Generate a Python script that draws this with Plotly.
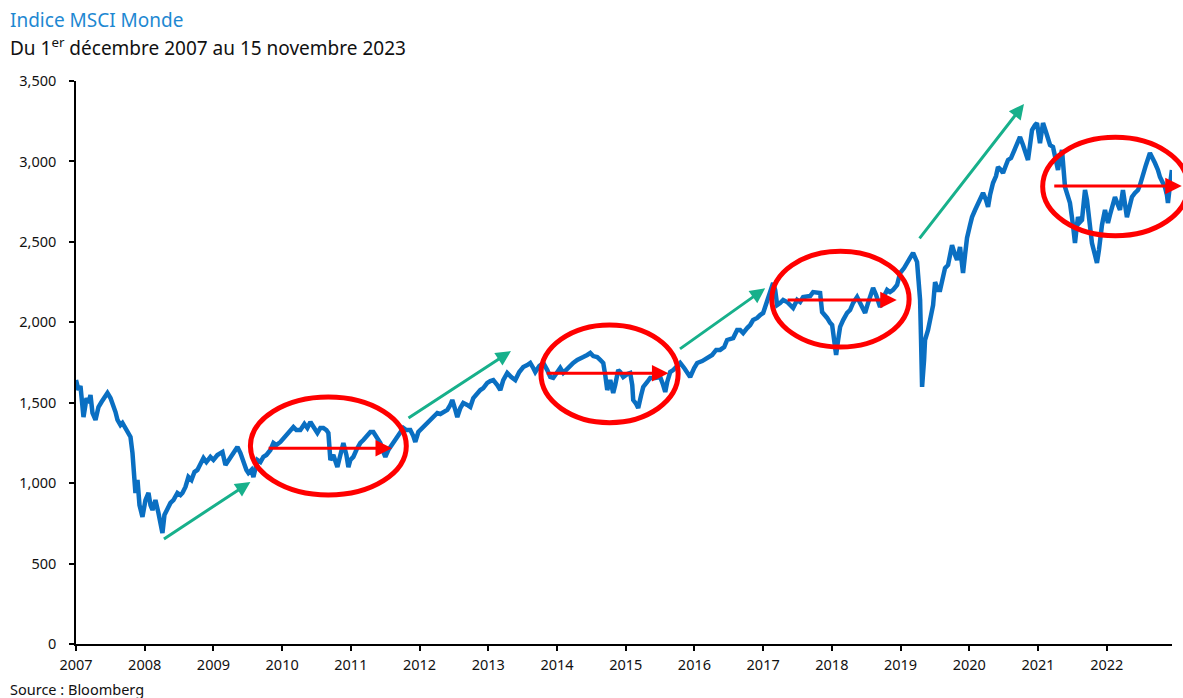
import plotly.graph_objects as go

# Years elapsed since the start of the chart (axis labelled 2007 .. 2022)
t = [0.000,0.036,0.065,0.109,0.153,0.182,0.211,0.240,0.284,0.327,0.371,0.415,0.458,0.502,0.531,0.575,0.604,0.647,0.676,0.720,
     0.749,0.793,0.822,0.851,0.865,0.895,0.924,0.967,1.011,1.055,1.084,1.113,1.156,1.200,1.229,1.258,1.287,1.331,1.375,1.418,
     1.476,1.520,1.549,1.593,1.636,1.680,1.724,1.767,1.811,1.855,1.898,1.956,2.000,2.058,2.102,2.131,2.175,2.218,2.247,2.305,
     2.349,2.393,2.436,2.480,2.509,2.553,2.582,2.611,2.640,2.684,2.727,2.771,2.829,2.873,2.916,2.975,3.033,3.091,3.164,3.207,
     3.265,3.324,3.367,3.411,3.454,3.513,3.556,3.600,3.644,3.673,3.702,3.745,3.804,3.847,3.891,3.935,3.964,3.993,4.036,4.080,
     4.138,4.182,4.240,4.284,4.327,4.371,4.429,4.473,4.502,4.545,4.575,4.633,4.691,4.720,4.764,4.807,4.865,4.909,4.938,4.982,
     5.054,5.113,5.156,5.200,5.258,5.302,5.345,5.404,5.447,5.476,5.520,5.549,5.593,5.636,5.694,5.738,5.782,5.840,5.884,5.927,
     5.985,6.029,6.073,6.131,6.175,6.218,6.276,6.334,6.393,6.451,6.509,6.567,6.611,6.654,6.684,6.742,6.800,6.858,6.902,6.945,
     7.004,7.047,7.091,7.135,7.193,7.236,7.295,7.338,7.382,7.440,7.484,7.527,7.585,7.629,7.673,7.702,7.731,7.775,7.818,7.847,
     7.891,7.920,7.964,8.022,8.065,8.095,8.109,8.153,8.182,8.225,8.255,8.313,8.356,8.429,8.502,8.545,8.575,8.604,8.647,8.691,
     8.749,8.793,8.851,8.895,8.938,8.996,9.040,9.113,9.185,9.258,9.316,9.374,9.433,9.476,9.564,9.622,9.665,9.709,9.767,9.811,
     9.854,9.913,9.956,10.000,10.029,10.073,10.102,10.145,10.175,10.204,10.247,10.291,10.349,10.393,10.436,10.495,10.538,10.582,10.640,10.684,
     10.727,10.785,10.829,10.858,10.902,10.931,10.975,11.004,11.033,11.062,11.091,11.120,11.164,11.222,11.265,11.309,11.367,11.411,11.454,11.484,
     11.527,11.556,11.600,11.644,11.702,11.745,11.804,11.847,11.891,11.949,11.993,12.051,12.095,12.138,12.182,12.240,12.255,12.284,12.298,12.313,
     12.342,12.356,12.400,12.429,12.473,12.502,12.545,12.575,12.618,12.647,12.691,12.720,12.749,12.793,12.822,12.865,12.909,12.938,12.967,13.011,
     13.040,13.084,13.127,13.156,13.200,13.244,13.273,13.302,13.345,13.389,13.418,13.462,13.491,13.535,13.564,13.607,13.636,13.695,13.738,13.782,
     13.811,13.854,13.884,13.913,13.956,13.985,14.029,14.058,14.073,14.116,14.145,14.175,14.218,14.262,14.291,14.320,14.349,14.393,14.436,14.465,
     14.509,14.538,14.567,14.582,14.611,14.640,14.669,14.684,14.713,14.727,14.756,14.785,14.829,14.858,14.887,14.902,14.931,14.975,15.018,15.047,
     15.076,15.120,15.164,15.193,15.236,15.265,15.294,15.338,15.367,15.411,15.455,15.484,15.527,15.571,15.629,15.673,15.702,15.745,15.775,15.818,
     15.847,15.876,15.891,15.920,15.949]

msci = [1641,1579,1604,1411,1529,1498,1548,1436,1393,1473,1504,1529,1560,1529,1498,1442,1393,1361,1374,1343,
        1330,1287,1187,1051,939,1020,864,790,895,939,864,833,895,814,758,690,802,845,877,895,
        939,926,939,976,1038,1020,1069,1082,1113,1156,1131,1163,1144,1175,1187,1194,1113,1144,1163,1194,
        1225,1187,1125,1082,1063,1082,1038,1082,1144,1131,1163,1175,1206,1250,1237,1256,1287,1318,1349,1330,
        1330,1368,1343,1380,1355,1312,1343,1343,1330,1312,1144,1175,1100,1175,1250,1175,1100,1144,1163,1206,
        1250,1268,1299,1318,1318,1287,1250,1194,1163,1206,1225,1256,1287,1312,1343,1330,1330,1293,1256,1318,
        1349,1374,1393,1411,1436,1430,1442,1455,1486,1517,1455,1411,1467,1498,1486,1473,1529,1560,1579,1591,
        1623,1635,1641,1610,1579,1641,1685,1660,1641,1691,1722,1734,1747,1716,1691,1728,1747,1703,1660,1654,
        1691,1716,1685,1703,1734,1747,1766,1778,1784,1797,1809,1790,1784,1766,1747,1672,1579,1641,1560,1610,
        1703,1691,1660,1678,1685,1610,1517,1492,1467,1548,1598,1629,1654,1654,1660,1610,1567,1629,1691,1703,
        1734,1747,1716,1691,1660,1716,1747,1759,1778,1797,1828,1828,1846,1890,1902,1952,1952,1933,1964,1983,
        2014,2027,2045,2058,2095,2151,2201,2244,2201,2107,2120,2139,2126,2107,2089,2139,2126,2157,2157,2163,
        2188,2182,2182,2064,2045,2027,1996,1983,1890,1797,1890,1971,2014,2058,2076,2120,2157,2120,2089,2058,
        2120,2151,2213,2170,2095,2151,2201,2188,2201,2232,2306,2337,2375,2400,2431,2375,2294,2139,1890,1598,
        1766,1890,1952,2027,2107,2250,2201,2201,2288,2337,2356,2431,2480,2418,2387,2468,2306,2418,2524,2605,
        2654,2698,2742,2773,2804,2760,2717,2791,2866,2909,2965,2947,2928,2978,3009,3021,3052,3102,3152,3102,
        3071,3009,3102,3195,3226,3239,3114,3195,3239,3183,3133,3102,3090,3009,2947,3021,3071,2841,2791,2742,
        2605,2493,2605,2654,2623,2636,2760,2822,2760,2698,2574,2493,2418,2369,2449,2530,2605,2698,2617,2667,
        2717,2779,2729,2698,2822,2729,2654,2729,2779,2804,2822,2853,2928,2978,3052,3021,2990,2947,2903,2866,
        2841,2791,2742,2853,2947]

year_ticks = [0, 1, 2, 3, 4, 5, 6, 7, 8, 9, 10, 11, 12, 13, 14, 15]
year_labels = ["2007", "2008", "2009", "2010", "2011", "2012", "2013", "2014",
               "2015", "2016", "2017", "2018", "2019", "2020", "2021", "2022"]
y_ticks = [0, 500, 1000, 1500, 2000, 2500, 3000, 3500]

# Trend arrows (tail -> tip), in data units
green_arrows = [((1.258, 647), (2.538, 1007)),
                ((4.817, 1399), (6.330, 1821)),
                ((8.768, 1828), (10.029, 2211)),
                ((12.259, 2512), (13.796, 3357))]
red_arrows = [((2.781, 1217), (4.599, 1217)),
              ((6.829, 1683), (8.622, 1683)),
              ((10.334, 2139), (11.944, 2139))]
# Consolidation zones (x0, x1, y0, y1)
ellipses = [(2.538, 4.807, 926, 1535),
            (6.766, 8.763, 1376, 1983),
            (10.126, 12.124, 1846, 2442)]

BLUE = "#0A6FC2"
RED = "#FF0000"
GREEN = "#17B08B"
FONT = "Noto Sans"

fig = go.Figure()
fig.add_trace(go.Scatter(x=t, y=msci, mode="lines",
                         line=dict(color=BLUE, width=4.5), hoverinfo="skip",
                         showlegend=False))

shapes = []
for x0, x1, y0, y1 in ellipses:
    shapes.append(dict(type="circle", xref="x", yref="y", x0=x0, x1=x1, y0=y0, y1=y1,
                       line=dict(color=RED, width=5)))
# last zone runs past the end of the axis
shapes.append(dict(type="circle", xref="x domain", yref="y", x0=0.882, x1=1.0146,
                   y0=2538, y1=3150, line=dict(color=RED, width=5)))

annotations = []
for (ax_, ay_), (x_, y_) in green_arrows:
    annotations.append(dict(x=x_, y=y_, ax=ax_, ay=ay_, xref="x", yref="y",
                            axref="x", ayref="y", text="", showarrow=True,
                            arrowhead=2, arrowsize=1.0, arrowwidth=3,
                            arrowcolor=GREEN, standoff=0))
for (ax_, ay_), (x_, y_) in red_arrows:
    annotations.append(dict(x=x_, y=y_, ax=ax_, ay=ay_, xref="x", yref="y",
                            axref="x", ayref="y", text="", showarrow=True,
                            arrowhead=2, arrowsize=1.1, arrowwidth=3,
                            arrowcolor=RED, standoff=0))
annotations.append(dict(x=1.0089, y=2847, ax=0.8912, ay=2847, xref="x domain", yref="y",
                        axref="x domain", ayref="y", text="", showarrow=True,
                        arrowhead=2, arrowsize=1.1, arrowwidth=3,
                        arrowcolor=RED, standoff=0))

annotations.append(dict(text="Indice MSCI Monde", xref="paper", yref="paper",
                        x=-0.0625, y=1.108, xanchor="left", yanchor="middle",
                        showarrow=False, font=dict(family=FONT, size=19, color="#1E88D2")))
annotations.append(dict(text="Du 1<sup>er</sup> décembre 2007 au 15 novembre 2023",
                        xref="paper", yref="paper",
                        x=-0.0625, y=1.060, xanchor="left", yanchor="middle",
                        showarrow=False, font=dict(family=FONT, size=19, color="#111111")))
annotations.append(dict(text="Source : Bloomberg", xref="paper", yref="paper",
                        x=-0.0625, y=-0.080, xanchor="left", yanchor="middle",
                        showarrow=False, font=dict(family=FONT, size=14.5, color="#111111")))

fig.update_layout(
    width=1183, height=698,
    margin=dict(l=76, r=11, t=81, b=54),
    paper_bgcolor="white", plot_bgcolor="white",
    font=dict(family=FONT, size=14.5, color="#111111"),
    shapes=shapes, annotations=annotations,
    xaxis=dict(range=[0, 15.95], tickmode="array", tickvals=year_ticks,
               ticktext=year_labels, showgrid=False, zeroline=False,
               showline=True, linecolor="black", linewidth=1.5,
               ticks="outside", ticklen=5, tickcolor="black", tickwidth=1.5,
               ticklabelstandoff=2,
               tickfont=dict(size=14.5, color="#111111")),
    yaxis=dict(range=[0, 3500], tickmode="array", tickvals=y_ticks,
               tickformat=",", showgrid=False, zeroline=False,
               showline=True, linecolor="black", linewidth=1.5,
               ticks="outside", ticklen=5, tickcolor="black", tickwidth=1.5,
               ticklabelstandoff=10,
               tickfont=dict(size=14.5, color="#111111")),
)

fig.write_html("out.html")
